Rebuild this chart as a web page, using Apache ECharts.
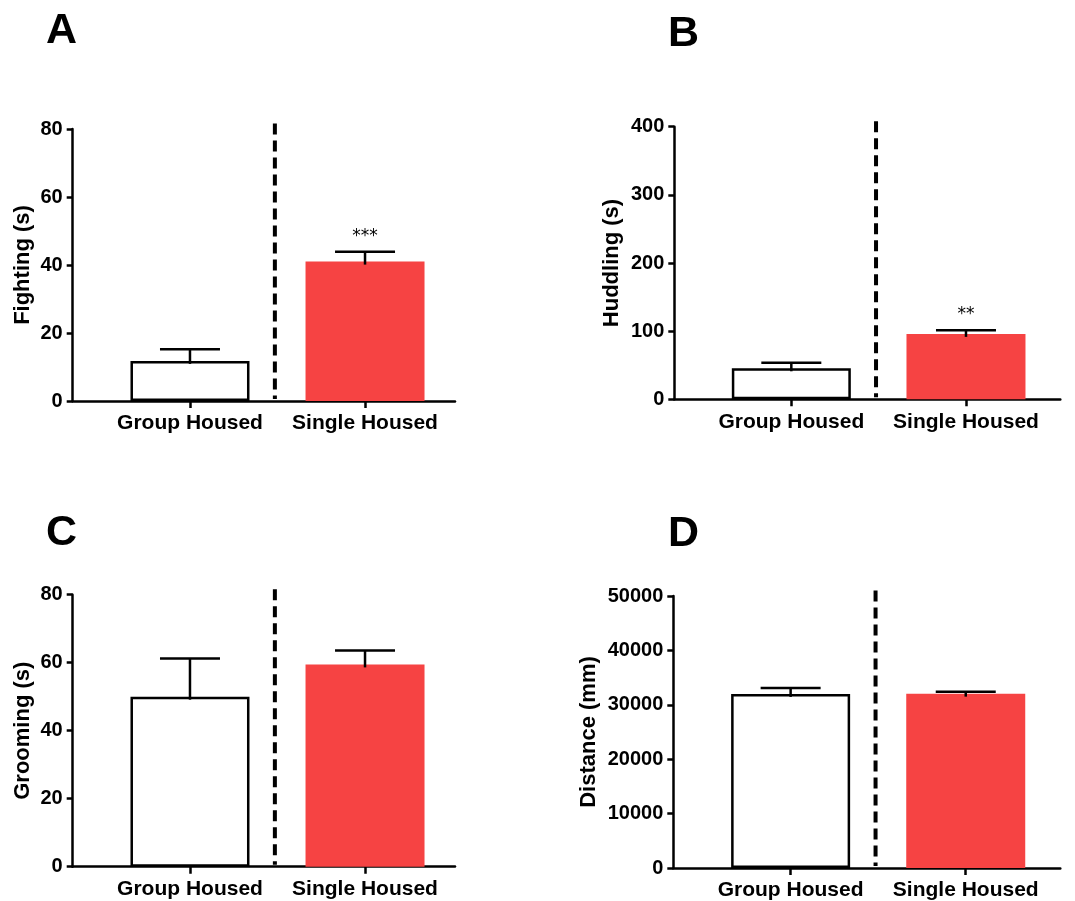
<!DOCTYPE html>
<html><head><meta charset="utf-8">
<script src="https://cdn.jsdelivr.net/npm/echarts@6/dist/echarts.min.js"></script>
<style>html,body{margin:0;padding:0;background:#fff}#c{width:1075px;height:901px}</style>
</head><body><div id="c"></div>
<script>
// ---- data ----
const categories = ['Group Housed', 'Single Housed'];
const categoryPos = [1, 2];
const dividerPos = [1.485];
const panelLetters = ['A', 'B', 'C', 'D'];
const yNames = ['Fighting (s)', 'Huddling (s)', 'Grooming (s)', 'Distance (mm)'];
const yMax = [80, 400, 80, 50000];
const yInterval = [20, 100, 20, 10000];
const fightingMean = [11.8, 41.0];
const fightingSem = [3.4, 2.9];
const huddlingMean = [45.5, 96];
const huddlingSem = [8.2, 5.4];
const groomingMean = [50, 59.5];
const groomingSem = [11.2, 4.1];
const distanceMean = [32000, 32050];
const distanceSem = [1100, 350];
const fightingStars = ['', '***'];
const huddlingStars = ['', '**'];
const groomingStars = ['', ''];
const distanceStars = ['', ''];

const means = [fightingMean, huddlingMean, groomingMean, distanceMean];
const sems = [fightingSem, huddlingSem, groomingSem, distanceSem];
const stars = [fightingStars, huddlingStars, groomingStars, distanceStars];

// ---- layout / style ----
const FONT = '"Liberation Sans", Arial, sans-serif';
const grids = [
  {left: 72.7, top: 129, width: 382.3, height: 272},
  {left: 674.3, top: 126.7, width: 386, height: 272.6},
  {left: 72.7, top: 594.7, width: 382.3, height: 272},
  {left: 673.3, top: 596, width: 387, height: 272.3}
];
const xMax = [2.514, 2.54, 2.514, 2.54];
const nameGaps = [39, 51, 39, 73];
const letterPos = [[46, 10], [668, 13], [46, 512], [668, 513]];
const RED = '#F64343';

const chart = echarts.init(document.getElementById('c'), null, {renderer: 'canvas'});

const xAxes = [], yAxes = [], series = [], graphics = [];
grids.forEach((g, i) => {
  xAxes.push({
    type: 'value', gridIndex: i, min: 0.33, max: xMax[i],
    axisLine: {show: true, onZero: false, lineStyle: {color: '#000', width: 2.5}},
    axisTick: {show: true, customValues: categoryPos, length: 7, lineStyle: {color: '#000', width: 2.5}},
    axisLabel: {
      show: true, customValues: categoryPos,
      formatter: v => categories[Math.round(v) - 1] || '',
      color: '#000', fontSize: 21, fontWeight: 'bold', fontFamily: FONT, margin: 12
    },
    splitLine: {show: false}
  });
  yAxes.push({
    type: 'value', gridIndex: i, min: 0, max: yMax[i], interval: yInterval[i],
    name: yNames[i], nameLocation: 'middle', nameGap: nameGaps[i],
    nameTextStyle: {color: '#000', fontSize: 22, fontWeight: 'bold', fontFamily: FONT},
    axisLine: {show: true, lineStyle: {color: '#000', width: 2.5}},
    axisTick: {show: true, length: 6, lineStyle: {color: '#000', width: 2.5}},
    axisLabel: {color: '#000', fontSize: 20, fontWeight: 'bold', fontFamily: FONT, margin: 10,
      formatter: v => String(v)},
    splitLine: {show: false}
  });
  series.push({
    type: 'bar', xAxisIndex: i, yAxisIndex: i, barWidth: 119, silent: true,
    data: categories.map((c, j) => ({
      value: [categoryPos[j], means[i][j]],
      itemStyle: j === 0 ? {color: '#fff', borderColor: '#000', borderWidth: 2.5} : {color: RED}
    }))
  });
  const st = stars[i];
  series.push({
    type: 'custom', xAxisIndex: i, yAxisIndex: i, silent: true, z: 5,
    data: categories.map((c, j) => [categoryPos[j], means[i][j], sems[i][j]]),
    renderItem: (params, api) => {
      const x = api.value(0), m = api.value(1), s = api.value(2);
      const b = api.coord([x, m]);
      const t = api.coord([x, m + s]);
      const children = [
        {type: 'line', shape: {x1: b[0], y1: b[1] + 3, x2: t[0], y2: t[1]}, style: {stroke: '#000', lineWidth: 2.5}},
        {type: 'line', shape: {x1: t[0] - 30, y1: t[1], x2: t[0] + 30, y2: t[1]}, style: {stroke: '#000', lineWidth: 2.5}}
      ];
      const label = st[params.dataIndex];
      if (label) {
        children.push({type: 'text', style: {text: label, x: t[0], y: t[1] - 7, align: 'center', verticalAlign: 'bottom',
          font: '17px "DejaVu Sans", sans-serif', fill: '#000'}});
      }
      return {type: 'group', children};
    }
  });
  series.push({
    type: 'custom', xAxisIndex: i, yAxisIndex: i, silent: true, z: 4, clip: false,
    data: dividerPos.map(d => [d]),
    renderItem: (params, api) => {
      const x = api.value(0);
      const p0 = api.coord([x, yMax[i]]);
      const p1 = api.coord([x, 0]);
      return {type: 'line', shape: {x1: p0[0], y1: p0[1] - 5.5, x2: p1[0], y2: p1[1] - 2},
        style: {stroke: '#000', lineWidth: 4, lineDash: [11, 6]}};
    }
  });
  graphics.push({
    type: 'text', left: letterPos[i][0], top: letterPos[i][1],
    style: {text: panelLetters[i], font: 'bold 43px ' + FONT, fill: '#000'}
  });
});

chart.setOption({
  animation: false,
  backgroundColor: '#fff',
  grid: grids,
  xAxis: xAxes,
  yAxis: yAxes,
  series: series,
  graphic: graphics
});
</script>
</body></html>
